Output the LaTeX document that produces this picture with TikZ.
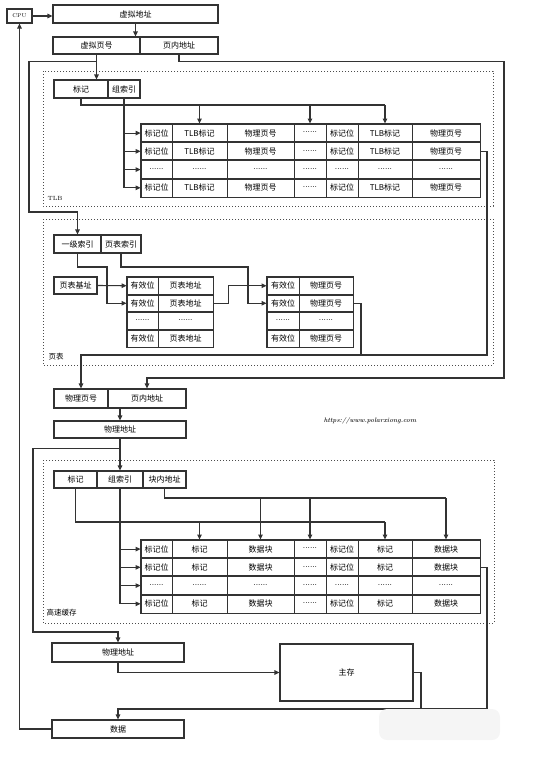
\documentclass[tikz,border=0pt]{standalone}
\usepackage{fontspec}
\usetikzlibrary{arrows.meta}
\newfontfamily\cjk{Noto Sans CJK SC}
\newcommand{\smalldots}{{\rmfamily\bfseries\fontsize{6}{6}\selectfont\raisebox{1.6pt}{......}}}

\begin{document}
\begin{tikzpicture}[x=1pt,y=-1pt,
  >={Triangle[length=5pt,width=4.5pt]},
  line width=1.1pt, color=black!80,
  box/.style={draw, minimum height=18pt, inner sep=0pt, text=black,
    font=\cjk\fontsize{8}{9}\selectfont},
  cell/.style={box, line width=0.8pt},
  area/.style={draw=black!70, line width=1pt, dotted},
  lbl/.style={anchor=west, inner sep=0pt, text=black}]
  \useasboundingbox (0,0) rectangle (548,763);

  % dotted areas
  \draw[area] (43,71) rectangle (493,206);
  \draw[area] (43,219) rectangle (493,365);
  \draw[area] (43,460) rectangle (494,623);
  \node[lbl, font=\fontsize{6}{7}\selectfont] (tlblbl) at (47,198) {TLB};
  \node[lbl, font=\cjk\fontsize{7.5}{8}\selectfont] (ptlbl) at (48,357) {页表};
  \node[lbl, font=\cjk\fontsize{7.5}{8}\selectfont] (cachelbl) at (46,613) {高速缓存};

  % virtual address
  \node[box, minimum width=25pt, minimum height=14pt, font=\fontsize{5.5}{6}\selectfont] (cpu) at (19.5,16) {CPU};
  \node[box, minimum width=165pt] (va) at (135.5,14) {虚拟地址};
  \node[box, minimum width=87pt, minimum height=17pt] (vpn) at (96.5,45.5) {虚拟页号};
  \node[box, minimum width=78pt, minimum height=17pt] (voff) at (179,45.5) {页内地址};
  \draw[->] (cpu.east) -- (cpu.east -| va.west);
  \draw[->] (va.south) -- (va.south |- vpn.north);

  % TLB
  \node[box, minimum width=54pt] (ttag) at (81,89) {标记};
  \node[box, minimum width=32pt] (tidx) at (124,89) {组索引};
  \draw[->] (vpn.south) -- (vpn.south |- ttag.north);
  \foreach \c/\x/\w/\txt in {1/156.5/31/标记位, 2/199.5/55/TLB标记, 3/260.5/67/物理页号,
      4/310/32/\smalldots, 5/342/32/标记位, 6/385/54/TLB标记, 7/446/68/物理页号}
    \foreach \r in {1,...,4} {
      \pgfmathsetmacro\y{133.1+(\r-1)*18.25}
      \node[cell, minimum width=\w pt, minimum height=18.25pt] (tlb-\r-\c) at (\x,\y)
        {\ifnum\r=3 \smalldots\else\txt\fi};
    }
  \foreach \r in {1,...,4}
    \draw[line width=1.2pt] (tlb-\r-1.north west) rectangle (tlb-\r-7.south east);
  \draw (ttag.south) |- (385,105);
  \foreach \c in {2,4,6}
    \draw[->] (tlb-1-\c.north |- 0,105) -- (tlb-1-\c.north);
  \fill (124,105) circle (1.3pt);
  \draw (tidx.south) -- (tidx.south |- tlb-4-1.west);
  \foreach \r in {1,...,4}
    \draw[->] (tidx.south |- tlb-\r-1.west) -- (tlb-\r-1.west);

  % page table
  \node[box, minimum width=47pt] (pt1) at (77.5,244) {一级索引};
  \node[box, minimum width=40pt] (pt2) at (121,244) {页表索引};
  \node[box, minimum width=43pt, minimum height=17pt] (ptb) at (75.5,285.5) {页表基址};
  \draw[->] (vpn.south) -- ++(0,7) -| (29,212) -| (pt1.north);
  \foreach \c/\x/\w/\txt in {1/142.5/31/有效位, 2/185.5/55/页表地址}
    \foreach \r in {1,...,4} {
      \pgfmathsetmacro\y{285.75+(\r-1)*17.5}
      \node[cell, minimum width=\w pt, minimum height=17.5pt] (p1-\r-\c) at (\x,\y)
        {\ifnum\r=3 \smalldots\else\txt\fi};
    }
  \foreach \c/\x/\w/\txt in {1/283/32/有效位, 2/326/54/物理页号}
    \foreach \r in {1,...,4} {
      \pgfmathsetmacro\y{285.75+(\r-1)*17.5}
      \node[cell, minimum width=\w pt, minimum height=17.5pt] (p2-\r-\c) at (\x,\y)
        {\ifnum\r=3 \smalldots\else\txt\fi};
    }
  \foreach \r in {1,...,4} {
    \draw[line width=1.2pt] (p1-\r-1.north west) rectangle (p1-\r-2.south east);
    \draw[line width=1.2pt] (p2-\r-1.north west) rectangle (p2-\r-2.south east);
  }
  \draw[->] (ptb.east) -- (p1-1-1.west);
  \draw[->] (pt1.south) |- (107,267) |- (p1-2-1.west);
  \fill (107,285.75) circle (1.3pt);
  \draw[->] (p1-2-2.east) -- ++(15,0) |- (p2-1-1.west);
  \draw[->] (pt2.south) |- (248,267) |- (p2-2-1.west);
  \fill (248,285.75) circle (1.3pt);

  % physical address
  \node[box, minimum width=54pt, minimum height=19pt] (ppn) at (81,398.5) {物理页号};
  \node[box, minimum width=78pt, minimum height=19pt] (poff) at (147,398.5) {页内地址};
  \node[box, minimum width=132pt, minimum height=17pt] (pa) at (120,429.5) {物理地址};
  \draw[->] (voff.south) -- ++(0,7) -| (504,378) -| (poff.north);
  \draw[->] (tlb-2-7.east) -| (487,355) -| (ppn.north);
  \draw (p2-2-2.east) -| (361,355);
  \draw[->] (pa.north |- ppn.south) -- (pa.north);
  \node[font=\rmfamily\itshape\bfseries\fontsize{6.5}{7}\selectfont, text=black!85] (url) at (370,421)
    {https://www.polarxiong.com};

  % cache
  \node[box, minimum width=43pt, minimum height=17pt] (ctag) at (75.5,479.5) {标记};
  \node[box, minimum width=46pt, minimum height=17pt] (cidx) at (120,479.5) {组索引};
  \node[box, minimum width=43pt, minimum height=17pt] (coff) at (164.5,479.5) {块内地址};
  \draw[->] (pa.south) -- (cidx.north);
  \foreach \c/\x/\w/\txt in {1/156.5/31/标记位, 2/199.5/55/标记, 3/260.5/67/数据块,
      4/310/32/\smalldots, 5/342/32/标记位, 6/385/54/标记, 7/446/68/数据块}
    \foreach \r in {1,...,4} {
      \pgfmathsetmacro\y{549.1+(\r-1)*18.25}
      \node[cell, minimum width=\w pt, minimum height=18.25pt] (cache-\r-\c) at (\x,\y)
        {\ifnum\r=3 \smalldots\else\txt\fi};
    }
  \foreach \r in {1,...,4}
    \draw[line width=1.2pt] (cache-\r-1.north west) rectangle (cache-\r-7.south east);
  \draw (ctag.south) |- (385,522);
  \foreach \c in {2,6}
    \draw[->] (cache-1-\c.north |- 0,522) -- (cache-1-\c.north);
  \draw (coff.south) |- (446,498);
  \foreach \c in {3,4,7}
    \draw[->] (cache-1-\c.north |- 0,498) -- (cache-1-\c.north);
  \foreach \x in {120,260.5,310}
    \fill (\x,522) circle (1.3pt);
  \draw (cidx.south) -- (cidx.south |- cache-4-1.west);
  \foreach \r in {1,...,4}
    \draw[->] (cidx.south |- cache-\r-1.west) -- (cache-\r-1.west);

  % memory and data
  \node[box, minimum width=132pt, minimum height=19pt] (pa2) at (118,652.5) {物理地址};
  \node[box, minimum width=133pt, minimum height=57pt] (mm) at (346.5,672.5) {主存};
  \node[box, minimum width=132pt, minimum height=18pt] (data) at (118,729) {数据};
  \draw[->] (pa.south) -- ++(0,10) -| (33,632) -| (pa2.north);
  \draw[->] (pa2.south) |- (mm.west);
  \draw[->] (cache-2-7.east) -| (487,709) -| (data.north);
  \draw (mm.east) -| (421,709);
  \draw[->] (data.west) -| (cpu.south);
  \fill[black!4, rounded corners=8pt] (379,709) rectangle (500,740);
\end{tikzpicture}
\end{document}
